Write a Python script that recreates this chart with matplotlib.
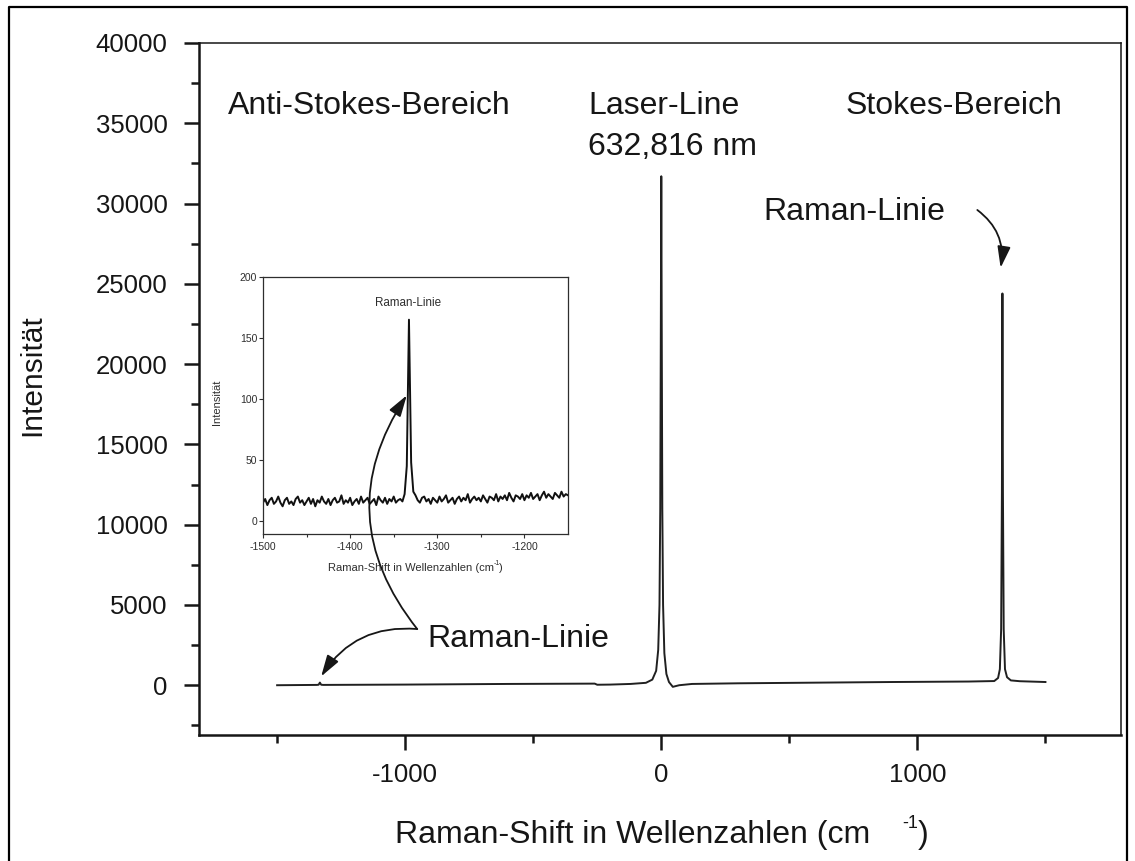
import numpy as np
import matplotlib
matplotlib.use("Agg")
import matplotlib.pyplot as plt
from matplotlib.lines import Line2D
from matplotlib.patches import FancyArrowPatch, ConnectionPatch
from matplotlib.ticker import FixedLocator

plt.rcParams['font.family'] = ['Liberation Sans', 'DejaVu Sans']
plt.rcParams['axes.unicode_minus'] = False

# Full spectrum: Raman shift (cm^-1) vs. counts
main_shift = [-1500, -1345, -1338, -1333, -1328, -1320, -1000, -600, -260, -250,
              -200, -120, -60, -35, -20, -12, -7, -4, -2, 0,
              2, 4, 7, 12, 20, 30, 45, 70, 120, 300,
              600, 900, 1200, 1300, 1315, 1322, 1327, 1330, 1332, 1334,
              1337, 1342, 1350, 1365, 1400, 1500]
main_counts = [0, 20, 30, 165, 30, 20, 40, 80, 100, 30,
               40, 80, 150, 350, 900, 2200, 5000, 11000, 21000, 31700,
               21000, 11000, 5000, 2000, 700, 200, -100, 0, 80, 120,
               160, 200, 230, 260, 450, 1000, 3500, 12000, 24400, 12000,
               3500, 1000, 500, 300, 250, 200]

# Zoomed anti-Stokes region, sampled every 2.5 cm^-1 from -1500 to -1150
inset_counts = [
    15, 18, 13, 17, 19, 14, 16, 20, 15, 12,
    17, 19, 14, 16, 13, 18, 20, 15, 17, 13,
    16, 19, 14, 18, 12, 17, 15, 20, 16, 14,
    18, 13, 17, 19, 15, 16, 21, 14, 17, 15,
    19, 13, 16, 18, 14, 20, 15, 17, 19, 14,
    16, 18, 13, 20, 17, 15, 19, 14, 18, 16,
    20, 15, 17, 18, 16,
    22, 45, 165, 48, 24,
    21, 17, 15, 19, 20, 16, 18, 14, 19, 17,
    15, 20, 16, 18, 21, 15, 17, 19, 14, 18,
    20, 16, 19, 17, 22, 15, 18, 20, 17, 19,
    16, 21, 18, 15, 20, 19, 17, 22, 16, 20,
    18, 21, 17, 23, 19, 16, 21, 20, 18, 22,
    17, 21, 19, 23, 18, 20, 22, 17, 21, 24,
    19, 22, 20, 18, 23, 21, 19, 24, 20, 22,
    21]
inset_shift = -1500 + 2.5 * np.arange(len(inset_counts))

main_yticks = [0, 5000, 10000, 15000, 20000, 25000, 30000, 35000, 40000]
main_xticks = [-1000, 0, 1000]
inset_xticks = [-1500, -1400, -1300, -1200]
inset_yticks = [0, 50, 100, 150, 200]

W, H = 1135, 861
fig = plt.figure(figsize=(W / 100, H / 100), dpi=100)


def fx(px):
    return px / W


def fy(py):
    return 1 - py / H


ink = '#161616'

# main axes
ax = fig.add_axes([fx(199), fy(735), fx(1121) - fx(199), fy(43) - fy(735)])
ax.plot(main_shift, main_counts, color='#202020', lw=1.4)
ax.set_xlim(-1805, 1795)
ax.set_ylim(-3100, 40000)

ax.xaxis.set_major_locator(FixedLocator(main_xticks))
ax.xaxis.set_minor_locator(FixedLocator([-1500, -500, 500, 1500]))
ax.yaxis.set_major_locator(FixedLocator(main_yticks))
ax.yaxis.set_minor_locator(FixedLocator(np.array(main_yticks) - 2500))
ax.tick_params(which='both', direction='out', color=ink, width=1.8, labelsize=18.5,
               labelcolor=ink)
ax.tick_params(which='major', length=11)
ax.tick_params(which='minor', length=6)
ax.tick_params(axis='y', pad=11.5)
ax.tick_params(axis='x', pad=9)
for side, lw in (('left', 1.8), ('bottom', 1.8), ('top', 1.1), ('right', 1.1)):
    ax.spines[side].set_linewidth(lw)
    ax.spines[side].set_color(ink)

# region labels
txt = dict(fontsize=23, color=ink, va='baseline', ha='left')
ax.text(-1691, 35600, 'Anti-Stokes-Bereich', **txt)
ax.text(-285, 35600, 'Laser-Line', **txt)
ax.text(-285, 33050, '632,816 nm', **txt)
ax.text(719, 35600, 'Stokes-Bereich', **txt)
ax.text(398, 28950, 'Raman-Linie', **txt)
ax.text(-914, 2370, 'Raman-Linie', **txt)

arrow_style = '-|>,head_length=0.65,head_width=0.2'
ax.add_patch(FancyArrowPatch((1234, 29600), (1325, 26000), arrowstyle=arrow_style,
                             connectionstyle='arc3,rad=-0.3', mutation_scale=20,
                             color=ink, lw=1.3, shrinkA=0, shrinkB=0))
ax.add_patch(FancyArrowPatch((-953, 3500), (-1328, 550), arrowstyle=arrow_style,
                             connectionstyle='arc3,rad=0.3', mutation_scale=20,
                             color=ink, lw=1.3, shrinkA=0, shrinkB=0))

# axis titles
fig.text(fx(32), fy(375), 'Intensität', rotation=90, ha='center', va='center',
         fontsize=21.5, color=ink)
fig.text(fx(395), fy(843), 'Raman-Shift in Wellenzahlen (cm', ha='left', va='baseline',
         fontsize=23, color=ink)
fig.text(fx(902), fy(828), '-1', ha='left', va='baseline', fontsize=13, color=ink)
fig.text(fx(918), fy(843), ')', ha='left', va='baseline', fontsize=23, color=ink)

# inset with the anti-Stokes line
grey = '#2e2e2e'
ax_in = fig.add_axes([fx(263), fy(534), fx(568) - fx(263), fy(277) - fy(534)])
ax_in.plot(inset_shift, inset_counts, color='#111111', lw=1.4)
ax_in.set_xlim(-1500, -1150)
ax_in.set_ylim(-10.7, 200)
ax_in.xaxis.set_major_locator(FixedLocator(inset_xticks))
ax_in.xaxis.set_minor_locator(FixedLocator([-1450, -1350, -1250]))
ax_in.yaxis.set_major_locator(FixedLocator(inset_yticks))
ax_in.tick_params(which='both', direction='out', length=3, width=0.8, color=grey,
                  labelsize=7.5, labelcolor=grey)
ax_in.tick_params(which='minor', length=2)
ax_in.tick_params(axis='y', pad=1.2)
ax_in.tick_params(axis='x', pad=2.5)
for side in ax_in.spines.values():
    side.set_linewidth(0.9)
    side.set_color(grey)
ax_in.text(-1333, 179, 'Raman-Linie', ha='center', va='center', fontsize=8.4, color=grey)

fig.text(fx(217), fy(402), 'Intensität', rotation=90, ha='center', va='center',
         fontsize=8, color=grey)
fig.text(fx(328), fy(571), 'Raman-Shift in Wellenzahlen (cm', ha='left', va='baseline',
         fontsize=8, color=grey)
fig.text(fx(494), fy(565), '-1', ha='left', va='baseline', fontsize=5, color=grey)
fig.text(fx(499), fy(571), ')', ha='left', va='baseline', fontsize=8, color=grey)

# pointer from the lower label up to the line in the inset
fig.add_artist(ConnectionPatch((-953, 3500), (-1335, 103), coordsA=ax.transData,
                               coordsB=ax_in.transData, arrowstyle=arrow_style,
                               connectionstyle='arc3,rad=-0.36', mutation_scale=20,
                               color=ink, lw=1.3, shrinkA=0, shrinkB=0))

# page frame, open at the bottom
fig.add_artist(Line2D([fx(9), fx(9), fx(1127), fx(1127)], [0, fy(7), fy(7), 0],
                      color='black', lw=1.6, transform=fig.transFigure))

fig.savefig('out.png', dpi=100)
